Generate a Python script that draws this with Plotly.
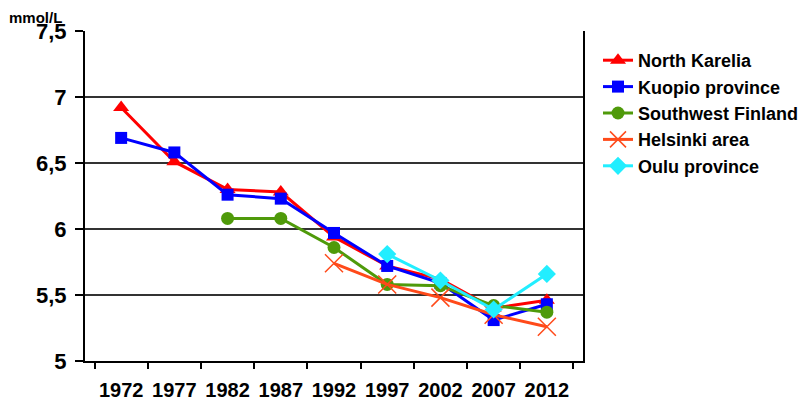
import plotly.graph_objects as go

years = ["1972", "1977", "1982", "1987", "1992", "1997", "2002", "2007", "2012"]

north_karelia = [6.92, 6.51, 6.30, 6.28, 5.94, 5.72, 5.62, 5.40, 5.46]
kuopio = [6.69, 6.58, 6.26, 6.23, 5.97, 5.72, 5.59, 5.31, 5.43]
southwest = [None, None, 6.08, 6.08, 5.86, 5.58, 5.57, 5.42, 5.37]
helsinki = [None, None, None, None, 5.74, 5.58, 5.48, 5.35, 5.26]
oulu = [None, None, None, None, None, 5.81, 5.61, 5.39, 5.66]

y_ticks = [5, 5.5, 6, 6.5, 7, 7.5]
y_ticktext = ["5", "5,5", "6", "6,5", "7", "7,5"]

series = [
    ("North Karelia", north_karelia, "#FF0000", dict(symbol="triangle-up", size=14)),
    ("Kuopio province", kuopio, "#0000FF", dict(symbol="square", size=12)),
    ("Southwest Finland", southwest, "#4F9A0A", dict(symbol="circle", size=13)),
    ("Helsinki area", helsinki, "#FF4A1A", dict(symbol="x-thin", size=18, line=dict(width=1.5, color="#FF4A1A"))),
    ("Oulu province", oulu, "#22EEFF", dict(symbol="diamond", size=14)),
]

fig = go.Figure()
for name, vals, col, mk in series:
    fig.add_trace(go.Scatter(
        x=years, y=vals, name=name, mode="lines+markers",
        line=dict(color=col, width=3),
        marker=dict(color=col, **mk),
    ))

bold = dict(family="Liberation Sans, Arial, sans-serif", color="black", weight="bold")

# the page body adds an 8px offset, margins are set with that in mind
fig.update_layout(
    width=812, height=400,
    margin=dict(l=77, r=237, t=23, b=47, autoexpand=False),
    plot_bgcolor="white", paper_bgcolor="white",
    font=bold,
    showlegend=True,
    legend=dict(
        xref="container", yref="container",
        x=590 / 812, y=1 - 34 / 400, xanchor="left", yanchor="top",
        font=dict(size=18, **bold), tracegroupgap=0,
        itemwidth=30,
    ),
    xaxis=dict(
        type="category", tickson="boundaries", automargin=False,
        showgrid=False, showline=True, linecolor="black", linewidth=2,
        ticks="outside", ticklen=6, tickcolor="black", tickwidth=1.5,
        tickfont=dict(size=20, **bold), ticklabelstandoff=10, tickangle=0,
    ),
    yaxis=dict(
        range=[5, 7.5], tickvals=y_ticks, ticktext=y_ticktext, automargin=False,
        showgrid=True, gridcolor="#333333", gridwidth=1.8,
        showline=True, linecolor="black", linewidth=2, mirror=True,
        ticks="outside", ticklen=8, tickcolor="black", tickwidth=1.5,
        tickfont=dict(size=22, **bold), ticklabelstandoff=4,
        zeroline=False,
    ),
    annotations=[dict(
        text="mmol/L", x=0, y=1.0, xref="paper", yref="paper",
        xshift=-77, yshift=23, xanchor="left", yanchor="top",
        showarrow=False, font=dict(size=15, **bold), borderpad=0,
    )],
)

fig.write_html("out.html")
